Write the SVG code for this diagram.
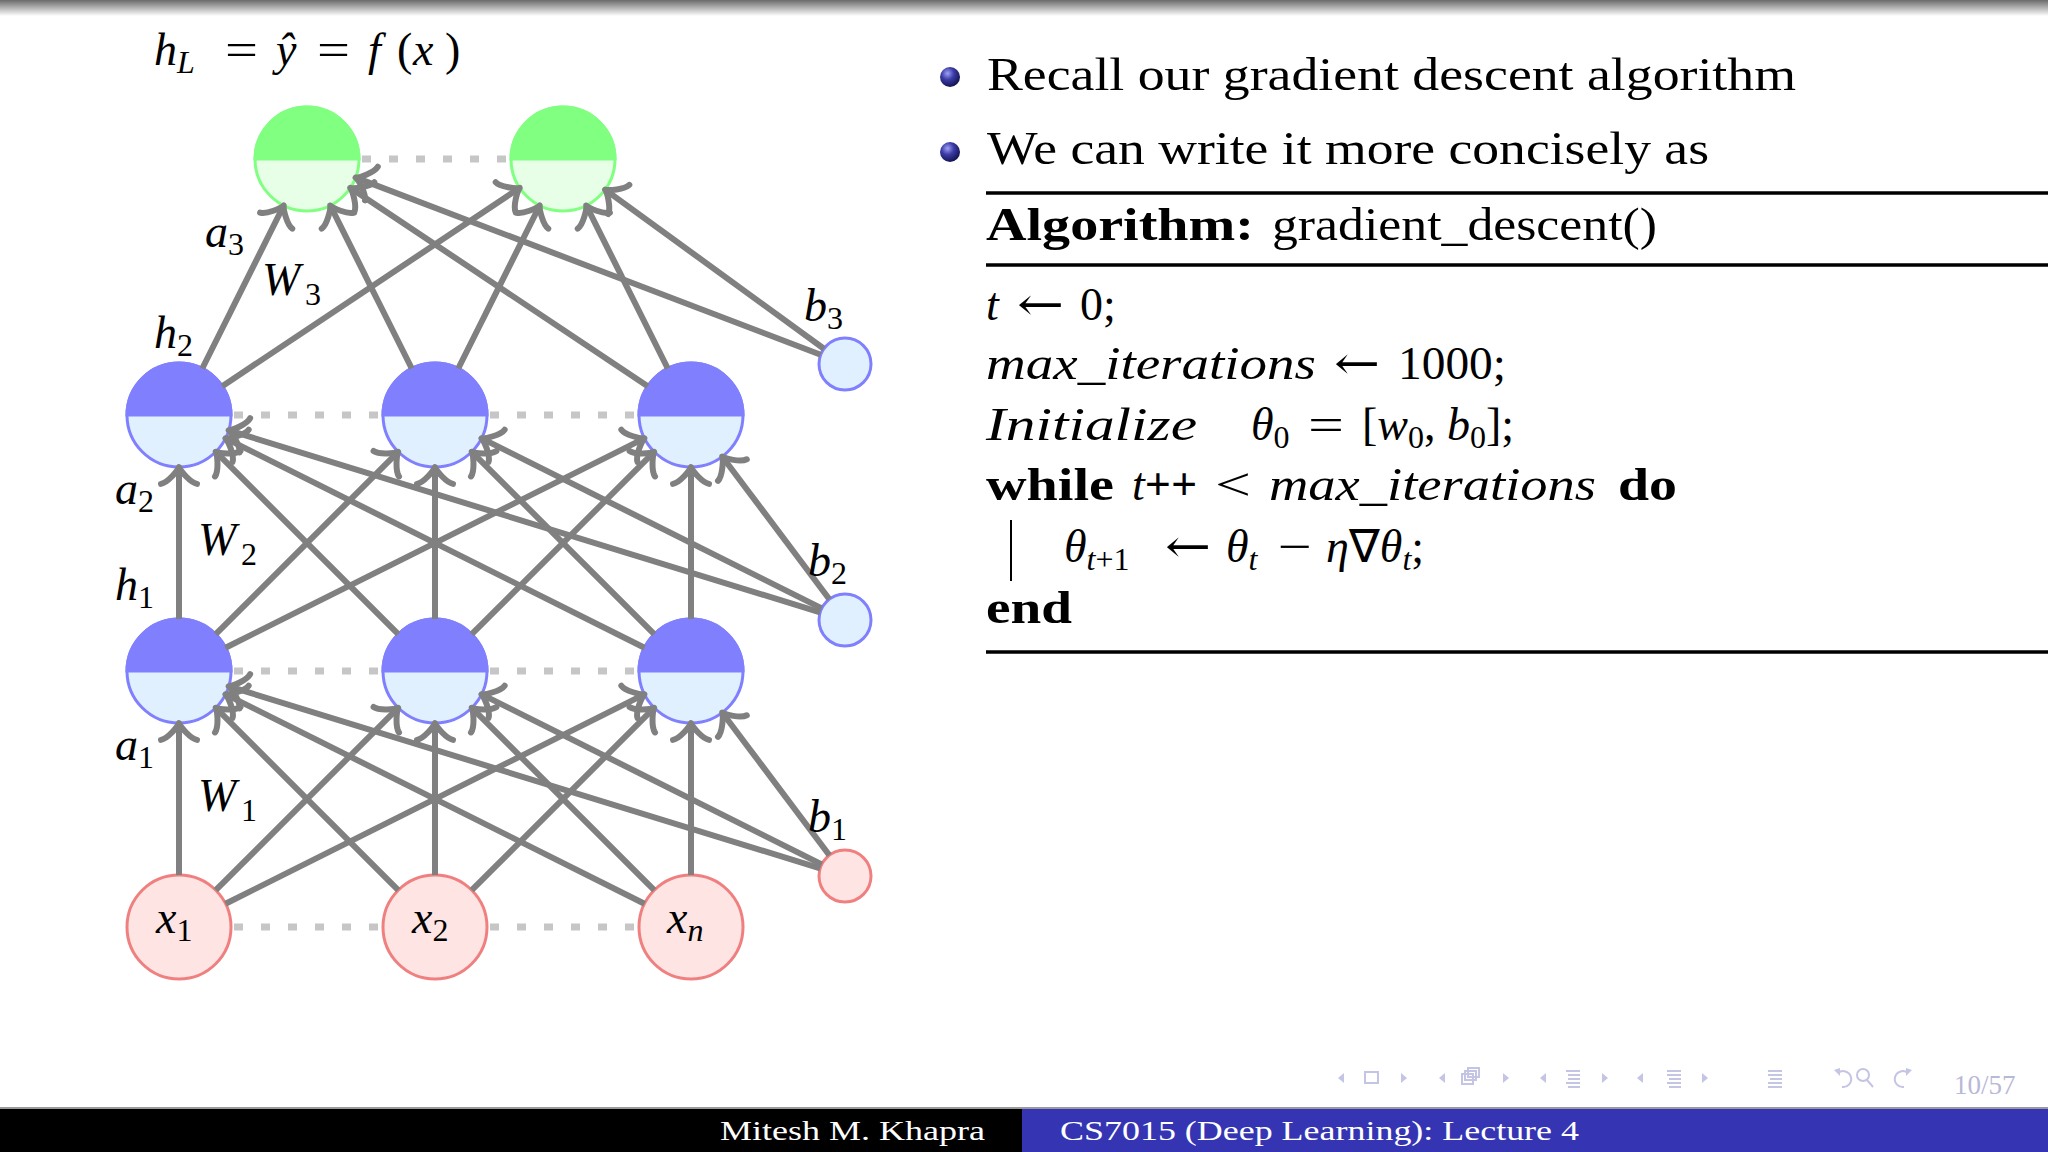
<svg xmlns="http://www.w3.org/2000/svg" width="2048" height="1152" viewBox="0 0 2048 1152">
<defs>
  <linearGradient id="topshade" x1="0" y1="0" x2="0" y2="1">
    <stop offset="0" stop-color="#6a6a6a"/>
    <stop offset="1" stop-color="#ffffff"/>
  </linearGradient>
  <radialGradient id="ball" cx="0.38" cy="0.32" r="0.7">
    <stop offset="0" stop-color="#a0a0f4"/>
    <stop offset="0.45" stop-color="#3c3ca8"/>
    <stop offset="1" stop-color="#12124e"/>
  </radialGradient>
  <marker id="arr" markerUnits="userSpaceOnUse" orient="auto" refX="-3" refY="0" markerWidth="40" markerHeight="50" overflow="visible">
    <path d="M -16.9,-18 C -15.75,-11.25 -3.4,-1.1 0,0 C -3.4,1.1 -15.75,11.25 -16.9,18" fill="none" stroke="#808080" stroke-width="6" stroke-linecap="round" stroke-linejoin="round"/>
  </marker>
</defs>
<style>
  .edge { stroke:#808080; stroke-width:6; fill:none; marker-end:url(#arr); }
  .dots { stroke:#c6c6c6; stroke-width:7; stroke-dasharray:9 18; fill:none; }
  .gC { fill:#e6ffe6; stroke:#80ff80; stroke-width:3; }
  .gT { fill:#80ff80; stroke:#80ff80; stroke-width:3; }
  .bC { fill:#e0f0ff; stroke:#8080ff; stroke-width:3; }
  .bT { fill:#8080ff; stroke:#8080ff; stroke-width:3; }
  .rC { fill:#ffe4e4; stroke:#f08080; stroke-width:3; }
  text { font-family:"Liberation Serif","Times New Roman",serif; fill:#000; }
  .m { font-size:46px; }
  .it { font-style:italic; }
  .sub { font-size:32px; }
  .bf { font-weight:bold; }
  .sym { font-family:"DejaVu Serif","Liberation Serif",serif; font-style:normal; }
  .nav { fill:#c4c4e4; }
  .navs { fill:none; stroke:#c4c4e4; stroke-width:2; }
</style>

<rect x="0" y="0" width="2048" height="1152" fill="#ffffff"/>
<rect x="0" y="0" width="2048" height="16" fill="url(#topshade)"/>

<g id="dots">
  <line class="dots" x1="362" y1="159" x2="509" y2="159"/>
  <line class="dots" x1="234" y1="415" x2="381" y2="415"/>
  <line class="dots" x1="490" y1="415" x2="637" y2="415"/>
  <line class="dots" x1="234" y1="671" x2="381" y2="671"/>
  <line class="dots" x1="490" y1="671" x2="637" y2="671"/>
  <line class="dots" x1="234" y1="927" x2="381" y2="927"/>
  <line class="dots" x1="490" y1="927" x2="637" y2="927"/>
</g>

<g id="out1"><circle class="gC" cx="307" cy="159" r="52"/><path class="gT" d="M255,159 A52,52 0 0 1 359,159 Z"/></g>
<g id="out2"><circle class="gC" cx="563" cy="159" r="52"/><path class="gT" d="M511,159 A52,52 0 0 1 615,159 Z"/></g>

<g id="h2_1"><circle class="bC" cx="179" cy="415" r="52"/><path class="bT" d="M127,415 A52,52 0 0 1 231,415 Z"/></g>
<g id="h2_2"><circle class="bC" cx="435" cy="415" r="52"/><path class="bT" d="M383,415 A52,52 0 0 1 487,415 Z"/></g>
<g id="h2_3"><circle class="bC" cx="691" cy="415" r="52"/><path class="bT" d="M639,415 A52,52 0 0 1 743,415 Z"/></g>

<g id="h1_1"><circle class="bC" cx="179" cy="671" r="52"/><path class="bT" d="M127,671 A52,52 0 0 1 231,671 Z"/></g>
<g id="h1_2"><circle class="bC" cx="435" cy="671" r="52"/><path class="bT" d="M383,671 A52,52 0 0 1 487,671 Z"/></g>
<g id="h1_3"><circle class="bC" cx="691" cy="671" r="52"/><path class="bT" d="M639,671 A52,52 0 0 1 743,671 Z"/></g>

<g id="x1"><circle class="rC" cx="179" cy="927" r="52"/><text class="m" y="933"><tspan x="156" class="it">x</tspan><tspan class="sub" y="941">1</tspan></text></g>
<g id="x2"><circle class="rC" cx="435" cy="927" r="52"/><text class="m" y="933"><tspan x="412" class="it">x</tspan><tspan class="sub" y="941">2</tspan></text></g>
<g id="xn"><circle class="rC" cx="691" cy="927" r="52"/><text class="m" y="933"><tspan x="667" class="it">x</tspan><tspan class="sub it" y="941">n</tspan></text></g>

<g id="b3"><circle class="bC" cx="845" cy="364" r="26"/></g>
<g id="b2"><circle class="bC" cx="845" cy="620" r="26"/></g>
<g id="b1"><circle class="rC" cx="845" cy="876" r="26"/></g>

<g id="connectors">
  <line class="edge" x1="179" y1="875" x2="179" y2="726"/>
  <line class="edge" x1="215.77" y1="890.23" x2="396.11" y2="709.89"/>
  <line class="edge" x1="225.51" y1="903.75" x2="641.81" y2="695.60"/>
  <line class="edge" x1="398.23" y1="890.23" x2="217.89" y2="709.89"/>
  <line class="edge" x1="435" y1="875" x2="435" y2="726"/>
  <line class="edge" x1="471.77" y1="890.23" x2="652.11" y2="709.89"/>
  <line class="edge" x1="644.49" y1="903.75" x2="228.19" y2="695.60"/>
  <line class="edge" x1="654.23" y1="890.23" x2="473.89" y2="709.89"/>
  <line class="edge" x1="691" y1="875" x2="691" y2="726"/>
  <line class="edge" x1="820.15" y1="868.35" x2="231.56" y2="687.18"/>
  <line class="edge" x1="821.74" y1="864.37" x2="484.19" y2="695.60"/>
  <line class="edge" x1="829.38" y1="855.21" x2="724.03" y2="714.97"/>

  <line class="edge" x1="179" y1="619" x2="179" y2="470"/>
  <line class="edge" x1="215.77" y1="634.23" x2="396.11" y2="453.89"/>
  <line class="edge" x1="225.51" y1="647.75" x2="641.81" y2="439.60"/>
  <line class="edge" x1="398.23" y1="634.23" x2="217.89" y2="453.89"/>
  <line class="edge" x1="435" y1="619" x2="435" y2="470"/>
  <line class="edge" x1="471.77" y1="634.23" x2="652.11" y2="453.89"/>
  <line class="edge" x1="644.49" y1="647.75" x2="228.19" y2="439.60"/>
  <line class="edge" x1="654.23" y1="634.23" x2="473.89" y2="453.89"/>
  <line class="edge" x1="691" y1="619" x2="691" y2="470"/>
  <line class="edge" x1="820.15" y1="612.35" x2="231.56" y2="431.18"/>
  <line class="edge" x1="821.74" y1="608.37" x2="484.19" y2="439.60"/>
  <line class="edge" x1="829.38" y1="599.21" x2="724.03" y2="458.97"/>

  <line class="edge" x1="202.26" y1="368.49" x2="282.40" y2="208.19"/>
  <line class="edge" x1="222.27" y1="386.16" x2="517.24" y2="189.51"/>
  <line class="edge" x1="411.74" y1="368.49" x2="331.60" y2="208.19"/>
  <line class="edge" x1="458.26" y1="368.49" x2="538.40" y2="208.19"/>
  <line class="edge" x1="647.73" y1="386.16" x2="352.76" y2="189.51"/>
  <line class="edge" x1="667.74" y1="368.49" x2="587.60" y2="208.19"/>
  <line class="edge" x1="820.70" y1="354.74" x2="358.40" y2="178.58"/>
  <line class="edge" x1="823.97" y1="348.71" x2="607.49" y2="191.34"/>
</g>

<g id="labels">
  <text class="m" y="65"><tspan x="154" class="it">h</tspan><tspan class="sub it" y="73">L</tspan><tspan x="225" y="65" textLength="33" lengthAdjust="spacingAndGlyphs">=</tspan><tspan x="276" class="it">ŷ</tspan><tspan x="317" textLength="33" lengthAdjust="spacingAndGlyphs">=</tspan><tspan x="368" class="it">f</tspan><tspan x="397">(</tspan><tspan x="413" class="it">x</tspan><tspan x="445">)</tspan></text>
  <text class="m" y="247"><tspan x="205" class="it">a</tspan><tspan class="sub" y="255">3</tspan></text>
  <text class="m" y="295"><tspan x="262" class="it">W</tspan><tspan class="sub" x="305" y="305">3</tspan></text>
  <text class="m" y="348"><tspan x="154" class="it">h</tspan><tspan class="sub" y="356">2</tspan></text>
  <text class="m" y="321"><tspan x="804" class="it">b</tspan><tspan class="sub" y="329">3</tspan></text>
  <text class="m" y="504"><tspan x="115" class="it">a</tspan><tspan class="sub" y="512">2</tspan></text>
  <text class="m" y="555"><tspan x="198" class="it">W</tspan><tspan class="sub" x="241" y="565">2</tspan></text>
  <text class="m" y="600"><tspan x="115" class="it">h</tspan><tspan class="sub" y="608">1</tspan></text>
  <text class="m" y="576"><tspan x="808" class="it">b</tspan><tspan class="sub" y="584">2</tspan></text>
  <text class="m" y="760"><tspan x="115" class="it">a</tspan><tspan class="sub" y="768">1</tspan></text>
  <text class="m" y="811"><tspan x="198" class="it">W</tspan><tspan class="sub" x="241" y="821">1</tspan></text>
  <text class="m" y="832"><tspan x="808" class="it">b</tspan><tspan class="sub" y="840">1</tspan></text>
</g>

<g id="bullets">
  <circle cx="950" cy="77" r="10" fill="url(#ball)"/>
  <circle cx="950" cy="152" r="10" fill="url(#ball)"/>
  <text class="m" x="987" y="90" textLength="809" lengthAdjust="spacingAndGlyphs">Recall our gradient descent algorithm</text>
  <text class="m" x="987" y="164" textLength="722" lengthAdjust="spacingAndGlyphs">We can write it more concisely as</text>
</g>

<g id="algorithm">
  <line x1="986" y1="193" x2="2048" y2="193" stroke="#000" stroke-width="3.5"/>
  <line x1="986" y1="265" x2="2048" y2="265" stroke="#000" stroke-width="3.5"/>
  <line x1="986" y1="652" x2="2048" y2="652" stroke="#000" stroke-width="3.5"/>
  <text class="m" y="240"><tspan x="986" class="bf" textLength="268" lengthAdjust="spacingAndGlyphs">Algorithm:</tspan><tspan x="1272" textLength="385" lengthAdjust="spacingAndGlyphs">gradient_descent()</tspan></text>
  <text class="m" y="320"><tspan x="986" class="it">t</tspan><tspan x="1017" class="sym" textLength="47" lengthAdjust="spacingAndGlyphs">←</tspan><tspan x="1080">0;</tspan></text>
  <text class="m" y="379"><tspan x="986" class="it" textLength="330" lengthAdjust="spacingAndGlyphs">max_iterations</tspan><tspan x="1334" class="sym" textLength="46" lengthAdjust="spacingAndGlyphs">←</tspan><tspan x="1398" textLength="108" lengthAdjust="spacingAndGlyphs">1000;</tspan></text>
  <text class="m" y="440"><tspan x="986" class="it" textLength="211" lengthAdjust="spacingAndGlyphs">Initialize</tspan><tspan x="1251" class="it">θ</tspan><tspan class="sub" y="448">0</tspan><tspan x="1308" y="440" textLength="36" lengthAdjust="spacingAndGlyphs">=</tspan><tspan x="1362">[</tspan><tspan class="it">w</tspan><tspan class="sub" y="448">0</tspan><tspan y="440">, </tspan><tspan class="it">b</tspan><tspan class="sub" y="448">0</tspan><tspan y="440">];</tspan></text>
  <text class="m" y="500"><tspan x="986" class="bf" textLength="128" lengthAdjust="spacingAndGlyphs">while</tspan><tspan x="1132" class="it">t</tspan><tspan class="bf">++</tspan><tspan x="1215" textLength="36" lengthAdjust="spacingAndGlyphs">&lt;</tspan><tspan x="1269" class="it" textLength="327" lengthAdjust="spacingAndGlyphs">max_iterations</tspan><tspan x="1618" class="bf" textLength="59" lengthAdjust="spacingAndGlyphs">do</tspan></text>
  <line x1="1011" y1="520" x2="1011" y2="581" stroke="#000" stroke-width="2"/>
  <text class="m" y="562"><tspan x="1064" class="it">θ</tspan><tspan class="sub" y="570"><tspan class="it">t</tspan>+1</tspan><tspan x="1165" y="562" class="sym" textLength="46" lengthAdjust="spacingAndGlyphs">←</tspan><tspan x="1226" class="it">θ</tspan><tspan class="sub it" y="570">t</tspan><tspan x="1278" y="562" textLength="34" lengthAdjust="spacingAndGlyphs">−</tspan><tspan x="1326" class="it">η</tspan><tspan>∇</tspan><tspan class="it">θ</tspan><tspan class="sub it" y="570">t</tspan><tspan y="562">;</tspan></text>
  <text class="m bf" x="986" y="623" textLength="86" lengthAdjust="spacingAndGlyphs">end</text>
</g>

<g id="navigation">
  <polygon class="nav" points="1344,1073 1338,1078 1344,1083"/>
  <rect class="navs" x="1365" y="1072" width="13" height="11"/>
  <polygon class="nav" points="1401,1073 1407,1078 1401,1083"/>
  <polygon class="nav" points="1445,1073 1439,1078 1445,1083"/>
  <rect class="navs" x="1468" y="1068" width="11" height="9"/>
  <rect class="navs" x="1465" y="1071" width="11" height="9"/>
  <rect class="navs" x="1462" y="1074" width="11" height="10" fill="#fff"/>
  <polygon class="nav" points="1503,1073 1509,1078 1503,1083"/>
  <polygon class="nav" points="1546,1073 1540,1078 1546,1083"/>
  <g class="nav"><rect x="1566" y="1070" width="14" height="2"/><rect x="1568" y="1074" width="12" height="2"/><rect x="1568" y="1078" width="12" height="2"/><rect x="1566" y="1082" width="14" height="2"/><rect x="1568" y="1086" width="12" height="2"/></g>
  <polygon class="nav" points="1602,1073 1608,1078 1602,1083"/>
  <polygon class="nav" points="1643,1073 1637,1078 1643,1083"/>
  <g class="nav"><rect x="1667" y="1070" width="14" height="2"/><rect x="1667" y="1074" width="14" height="2"/><rect x="1669" y="1078" width="12" height="2"/><rect x="1667" y="1082" width="14" height="2"/><rect x="1669" y="1086" width="12" height="2"/></g>
  <polygon class="nav" points="1702,1073 1708,1078 1702,1083"/>
  <g class="nav"><rect x="1768" y="1070" width="14" height="2"/><rect x="1768" y="1074" width="14" height="2"/><rect x="1770" y="1078" width="12" height="2"/><rect x="1768" y="1082" width="14" height="2"/><rect x="1768" y="1086" width="14" height="2"/></g>
  <path class="navs" d="M1838,1073 A8,8 0 1 1 1842,1087"/>
  <polygon class="nav" points="1834,1070 1840,1068 1840,1076"/>
  <circle class="navs" cx="1863" cy="1075" r="6"/>
  <line class="navs" x1="1867" y1="1080" x2="1873" y2="1087"/>
  <path class="navs" d="M1908,1073 A8,8 0 1 0 1904,1087"/>
  <polygon class="nav" points="1912,1070 1906,1068 1906,1076"/>
  <text x="1954" y="1094" font-size="27" style="fill:#b8b8d8">10/57</text>
</g>

<g id="footer">
  <rect x="0" y="1107" width="2048" height="2" fill="#9a9a9a"/>
  <rect x="0" y="1109" width="1022" height="43" fill="#000000"/>
  <rect x="1022" y="1109" width="1026" height="43" fill="#3535b4"/>
  <text x="985" y="1140" font-size="28" text-anchor="end" textLength="265" lengthAdjust="spacingAndGlyphs" style="fill:#ffffff">Mitesh M. Khapra</text>
  <text x="1060" y="1140" font-size="28" textLength="519" lengthAdjust="spacingAndGlyphs" style="fill:#ffffff">CS7015 (Deep Learning): Lecture 4</text>
</g>
</svg>
